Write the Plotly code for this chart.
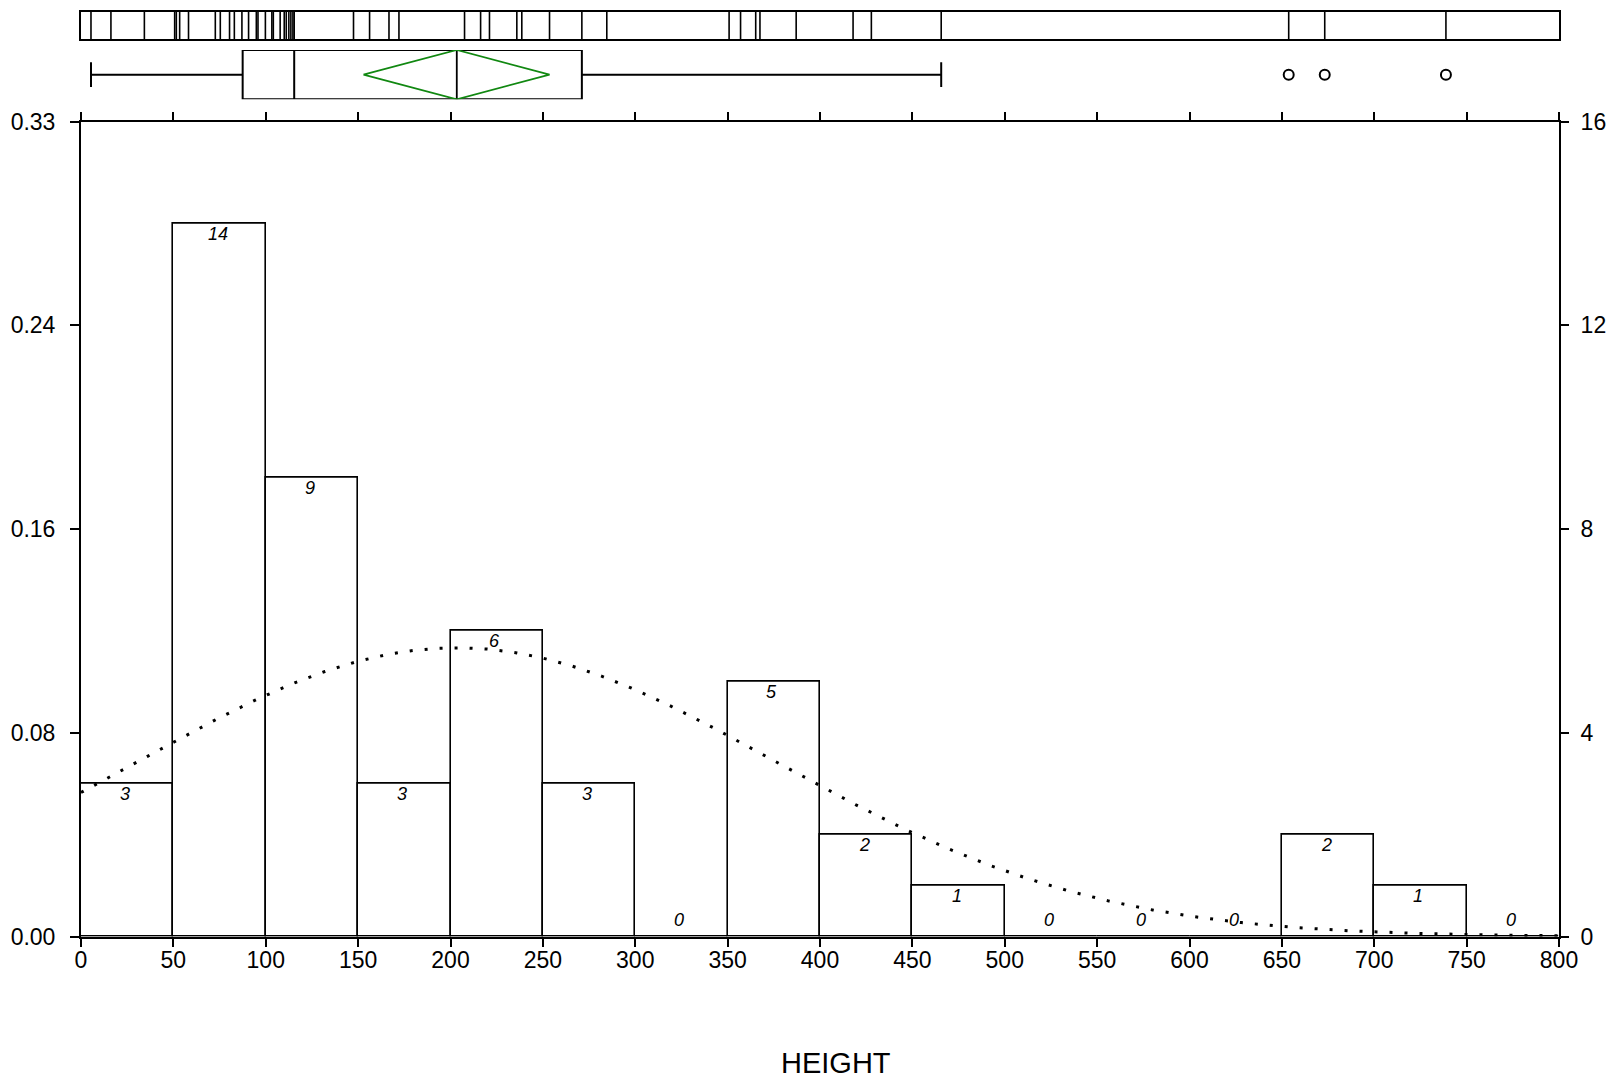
import math
import plotly.graph_objects as go

# ---------------- data ----------------
bin_left = [0, 50, 100, 150, 200, 250, 300, 350, 400, 450, 500, 550, 600, 650, 700, 750]
bin_width = 50
counts = [3, 14, 9, 3, 6, 3, 0, 5, 2, 1, 0, 0, 0, 2, 1, 0]
n_obs = 49

observations = [5.4, 16.2, 34.3,
                50.7, 51.6, 53.4, 58.2, 72.7, 75.4, 80.4, 83.0, 87.1, 90.7, 94.9, 95.8, 99.8,
                103.3, 104.1, 107.8, 110.0, 111.1, 112.5, 113.6, 114.7, 115.4, 147.5,
                156.2, 166.7, 172.1,
                207.6, 216.3, 221.1, 235.9, 238.6,
                253.6, 271.1, 284.6,
                350.8, 357.0, 365.2, 367.5, 387.1,
                417.9, 427.8, 465.6,
                653.7, 673.2, 738.8]

box_q1 = 87.5
box_median = 115.4
box_q3 = 271.1
box_low = 5.4
box_high = 465.6
outliers = [653.7, 673.2, 738.8]
mean_val = 203.4
mean_ci = [152.9, 253.6]
sd_val = 172.4

x_ticks = list(range(0, 801, 50))
count_ticks = [0, 4, 8, 12, 16]

# ---------------- layout geometry (pixels) ----------------
OFF = 8                       # page body margin
W, H = 1617 - OFF, 1081 - OFF
L = 81 - OFF
R = W - (1559.3 - OFF)


def py(pix):
    return (H - (pix - OFF)) / H


def px(pix):
    return ((pix - OFF) - L) / (W - L - R)


tick_font = dict(family="Liberation Sans Narrow, Liberation Sans, Arial, sans-serif",
                 size=23, color="black")
lab_font = dict(family="Liberation Sans Narrow, Liberation Sans, Arial, sans-serif",
                size=18, color="black")

fig = go.Figure()

# histogram bars
centers = [b + bin_width / 2 for b in bin_left]
fig.add_trace(go.Bar(x=centers, y=counts, width=[bin_width] * len(counts),
                     marker=dict(color="white", line=dict(color="black", width=1.6)),
                     xaxis="x", yaxis="y", showlegend=False, hoverinfo="skip"))

# fitted normal curve (counts scale)
curve_x = [i * 2.0 for i in range(0, 401)]
curve_y = [n_obs * bin_width / (sd_val * math.sqrt(2 * math.pi)) *
           math.exp(-((x - mean_val) ** 2) / (2 * sd_val ** 2)) for x in curve_x]
fig.add_trace(go.Scatter(x=curve_x, y=curve_y, mode="lines",
                         line=dict(color="black", width=3, dash="3px,12px"),
                         xaxis="x", yaxis="y", showlegend=False, hoverinfo="skip"))

# invisible trace to activate the right axis
fig.add_trace(go.Scatter(x=[0], y=[0], mode="markers", marker=dict(opacity=0),
                         xaxis="x", yaxis="y4", showlegend=False, hoverinfo="skip"))

# box plot
fig.add_trace(go.Box(y=[0], q1=[box_q1], median=[box_median], q3=[box_q3],
                     lowerfence=[box_low], upperfence=[box_high], orientation="h",
                     width=1, whiskerwidth=0.5, boxpoints=False,
                     fillcolor="white", line=dict(color="black", width=2),
                     xaxis="x2", yaxis="y2", showlegend=False, hoverinfo="skip"))
# mean line inside box
fig.add_trace(go.Scatter(x=[mean_val, mean_val], y=[-0.5, 0.5], mode="lines",
                         line=dict(color="black", width=1.8),
                         xaxis="x2", yaxis="y2", showlegend=False, hoverinfo="skip"))
# mean confidence diamond
fig.add_trace(go.Scatter(x=[mean_ci[0], mean_val, mean_ci[1], mean_val, mean_ci[0]],
                         y=[0, 0.5, 0, -0.5, 0], mode="lines",
                         line=dict(color="#118811", width=1.8),
                         xaxis="x2", yaxis="y2", showlegend=False, hoverinfo="skip"))
# outliers
fig.add_trace(go.Scatter(x=outliers, y=[0] * len(outliers), mode="markers",
                         marker=dict(symbol="circle-open", size=10, color="black",
                                     line=dict(width=2, color="black")),
                         xaxis="x2", yaxis="y2", showlegend=False, hoverinfo="skip"))

# rug
rx, ry = [], []
for v in observations:
    rx += [v, v, None]
    ry += [0, 1, None]
fig.add_trace(go.Scatter(x=rx, y=ry, mode="lines", line=dict(color="black", width=1.6),
                         xaxis="x3", yaxis="y3", showlegend=False, hoverinfo="skip"))

# count labels
annotations = []
for c, n in zip(centers, counts):
    if n > 0:
        annotations.append(dict(x=c, y=n, xref="x", yref="y", text=f"<i>{n}</i>",
                                showarrow=False, yanchor="top", xshift=-2, yshift=2,
                                font=lab_font))
    else:
        annotations.append(dict(x=c, y=0, xref="x", yref="y", text=f"<i>{n}</i>",
                                showarrow=False, yanchor="bottom", xshift=-2, yshift=5,
                                font=lab_font))
annotations.append(dict(x=px(836), y=py(1062.5), xref="paper", yref="paper",
                        text="HEIGHT", showarrow=False, yanchor="middle", xanchor="center",
                        font=dict(family="Liberation Sans, Arial, sans-serif", size=29, color="black")))

main_dom = [py(936.5), py(121.7)]
box_dom = [py(99.3), py(50)]
rug_dom = [py(39.3), py(11.7)]

fig.update_layout(
    width=W, height=H,
    margin=dict(l=L, r=R, t=0, b=0, pad=0, autoexpand=False),
    paper_bgcolor="white", plot_bgcolor="white",
    bargap=0,
    annotations=annotations,
    xaxis=dict(domain=[0, 1], range=[0, 800], anchor="y", tickvals=x_ticks, automargin=False,
               ticks="outside", ticklen=8, tickwidth=2, tickcolor="black",
               showline=True, linecolor="black", linewidth=2, mirror="ticks",
               showgrid=False, zeroline=False, tickfont=tick_font, ticklabelstandoff=-6),
    yaxis=dict(domain=main_dom, range=[0, 16], anchor="x", tickvals=count_ticks, automargin=False,
               ticktext=[f"{v / n_obs:.2f}" for v in count_ticks],
               ticks="outside", ticklen=9, tickwidth=2, tickcolor="black",
               showline=True, linecolor="black", linewidth=2, mirror=True,
               showgrid=False, zeroline=False, tickfont=tick_font, ticklabelstandoff=10),
    yaxis4=dict(overlaying="y", side="right", anchor="x", range=[0, 16], tickvals=count_ticks,
                automargin=False,
                ticks="outside", ticklen=9, tickwidth=2, tickcolor="black",
                showline=False, showgrid=False, zeroline=False, tickfont=tick_font,
                ticklabelstandoff=7),
    xaxis2=dict(domain=[0, 1], range=[0, 800], anchor="y2", visible=False, automargin=False),
    yaxis2=dict(domain=box_dom, range=[-0.5, 0.5], anchor="x2", visible=False, automargin=False),
    xaxis3=dict(domain=[0, 1], range=[0, 800], anchor="y3", showticklabels=False, ticks="",
                automargin=False,
                showline=True, linecolor="black", linewidth=2, mirror=True,
                showgrid=False, zeroline=False),
    yaxis3=dict(domain=rug_dom, range=[0, 1], anchor="x3", showticklabels=False, ticks="",
                automargin=False,
                showline=True, linecolor="black", linewidth=2, mirror=True,
                showgrid=False, zeroline=False),
)

fig.write_html("out.html")
